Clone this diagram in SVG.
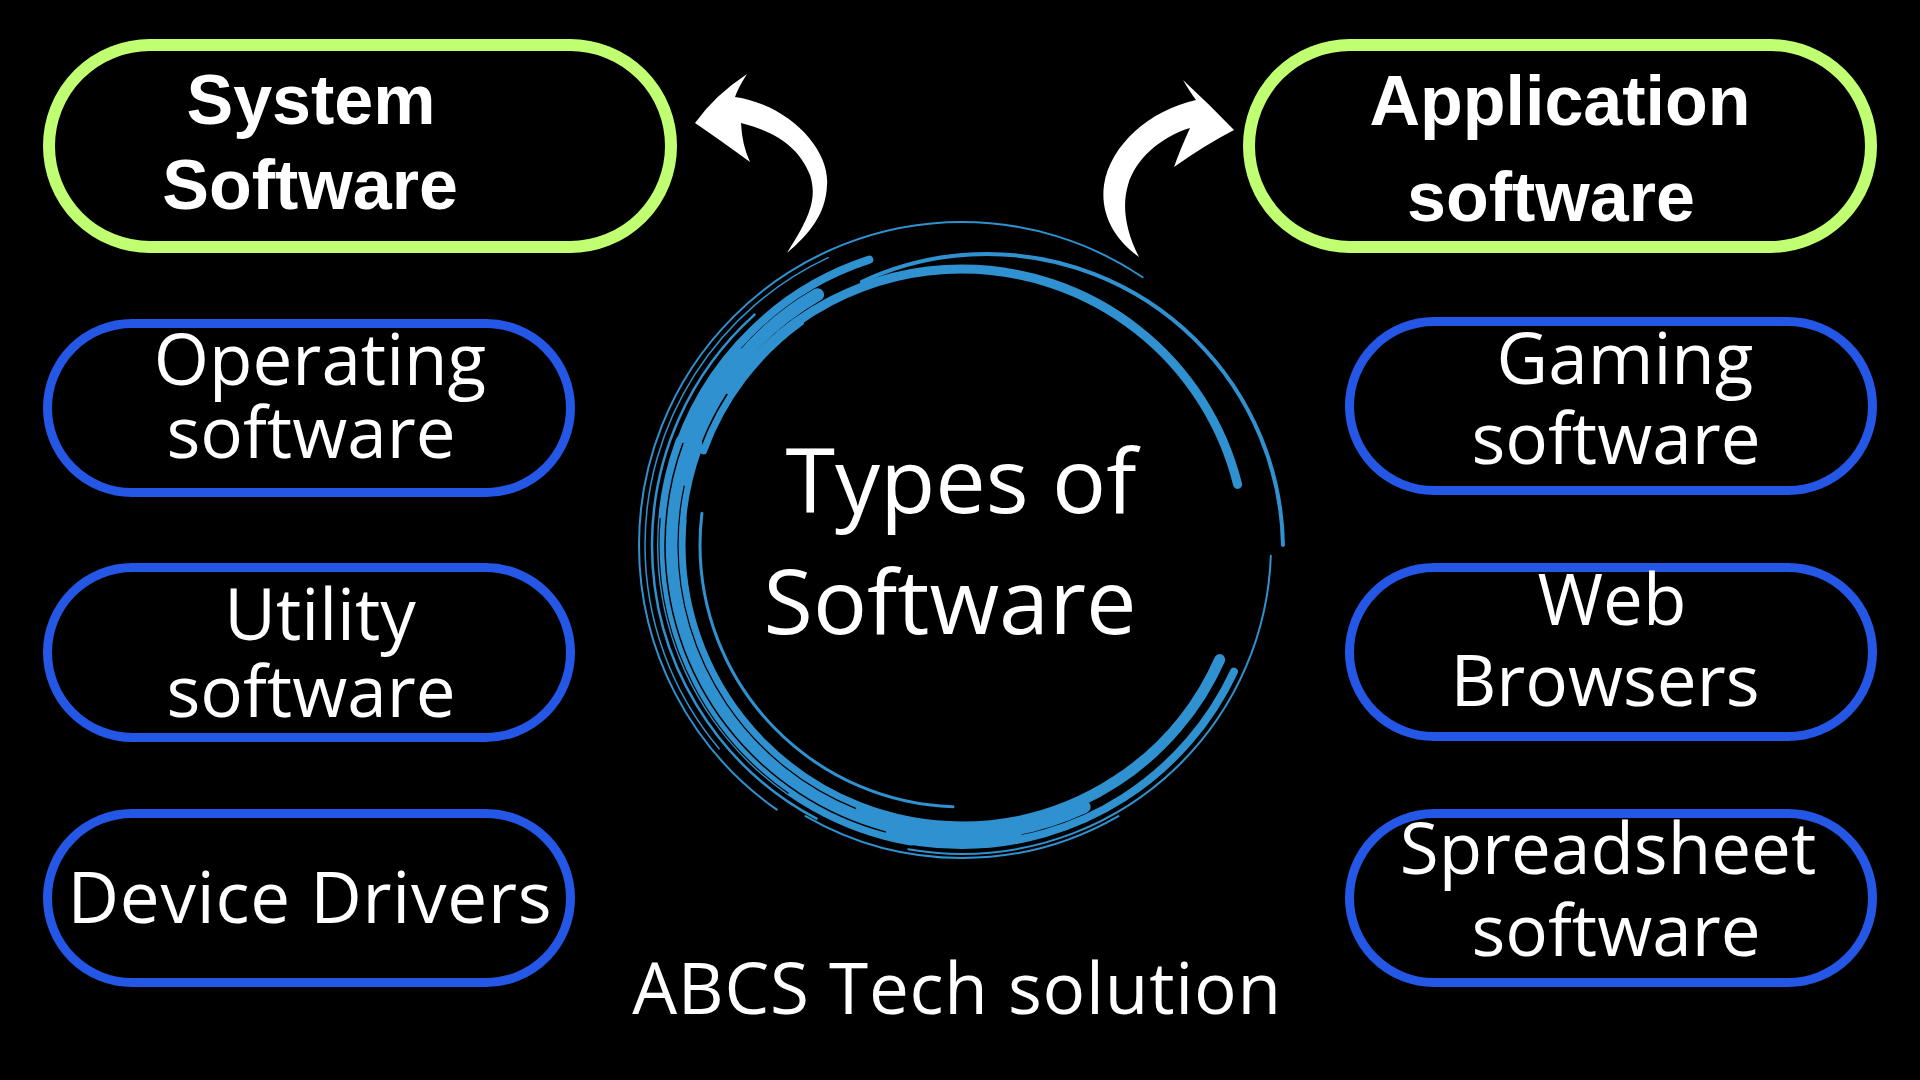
<svg xmlns="http://www.w3.org/2000/svg" width="1920" height="1080" viewBox="0 0 1920 1080">
<style>
.bg{fill:#000}
.gp{fill:#000;stroke:#c1ff72;stroke-width:12}
.bp{fill:#000;stroke:#2457e5;stroke-width:9}
.hd{font-family:"Liberation Sans",Arial,sans-serif;font-weight:bold;font-size:70px;fill:#fff;text-anchor:middle}
.lb{font-family:"Open Sans","Noto Sans",sans-serif;font-size:71px;fill:#fff;text-anchor:middle}
.wide{letter-spacing:0.8px}
.ct{font-family:"Open Sans","Noto Sans",sans-serif;font-size:90px;fill:#fff;text-anchor:middle}
.br{fill:none;stroke:#2f91cf;stroke-linecap:round}
.bk{fill:none;stroke:#000;stroke-linecap:round}
.ar{fill:#fff}
</style>
<rect class="bg" x="0" y="0" width="1920" height="1080"/>

<g id="swirl">
<circle class="br" cx="962" cy="545" r="323" pathLength="360" stroke-width="2" stroke-dasharray="179 181" stroke-dashoffset="-125"/>
<circle class="br" cx="962" cy="545" r="317" pathLength="360" stroke-width="1.5" stroke-dasharray="105 255" stroke-dashoffset="-140"/>
<circle class="br" cx="962" cy="545" r="310" pathLength="360" stroke-width="2.5" stroke-dasharray="110 250" stroke-dashoffset="-118"/>
<circle class="br" cx="987" cy="550" r="296" pathLength="360" stroke-width="4" stroke-dasharray="114 246" stroke-dashoffset="-245"/>
<circle class="br" cx="962" cy="553" r="284" pathLength="360" stroke-width="9" stroke-dasharray="131 229" stroke-dashoffset="-215"/>
<circle class="br" cx="962" cy="545" r="300" pathLength="360" stroke-width="8" stroke-dasharray="60 300" stroke-dashoffset="-192"/>
<circle class="br" cx="962" cy="545" r="275" pathLength="360" stroke-width="7" stroke-dasharray="34 326" stroke-dashoffset="-200"/>
<circle class="br" cx="962" cy="545" r="262" pathLength="360" stroke-width="3" stroke-dasharray="95 265" stroke-dashoffset="-92"/>
<circle class="br" cx="962" cy="545" r="282" pathLength="360" stroke-width="11" stroke-dasharray="161 199" stroke-dashoffset="-24"/>
<circle class="br" cx="962" cy="545" r="300" pathLength="360" stroke-width="8" stroke-dasharray="100 260" stroke-dashoffset="-25"/>
<circle class="br" cx="962" cy="545" r="309" pathLength="360" stroke-width="2" stroke-dasharray="98 262" stroke-dashoffset="-2"/>
<circle class="br" cx="962" cy="545" r="291" pathLength="360" stroke-width="28" stroke-dasharray="100 260" stroke-dashoffset="-100"/>
<circle class="br" cx="962" cy="545" r="290" pathLength="360" stroke-width="20" stroke-dasharray="140 220" stroke-dashoffset="-80"/>
<circle class="br" cx="962" cy="545" r="289" pathLength="360" stroke-width="13" stroke-dasharray="175 185" stroke-dashoffset="-65"/>
<circle class="br" cx="962" cy="545" r="313" pathLength="360" stroke-width="2" stroke-dasharray="60 300" stroke-dashoffset="-60"/>
<circle class="bk" cx="962" cy="545" r="297" pathLength="360" stroke-width="1.5" stroke-dasharray="95 265" stroke-dashoffset="-105"/>
<circle class="bk" cx="962" cy="545" r="284" pathLength="360" stroke-width="1.2" stroke-dasharray="80 280" stroke-dashoffset="-112"/>
<circle class="bk" cx="962" cy="545" r="303" pathLength="360" stroke-width="1.2" stroke-dasharray="60 300" stroke-dashoffset="-125"/>
</g>

<g id="connectors">
<path class="ar" d="M 747 74 Q 738 88 735 97 C 790 105 830 150 827 185 C 826 215 808 235 787 253 C 808 220 818 200 810 175 C 800 150 780 133 741 123 Q 742 145 750 162 Q 720 140 695 123 Q 715 95 747 74 Z"/>
<path class="ar" d="M 1183 80 Q 1190 92 1196 100 C 1150 110 1110 145 1104 185 C 1100 215 1115 240 1139 257 C 1125 230 1122 205 1128 185 C 1135 160 1160 137 1190 128 Q 1180 150 1174 167 Q 1205 145 1234 130 Q 1210 105 1183 80 Z"/>
</g>

<g id="center">
<text class="ct" x="961" y="513">Types of</text>
<text class="ct" x="950" y="634">Software</text>
</g>

<g id="system-software">
<rect class="gp" x="49" y="45" width="622" height="202" rx="101"/>
<text class="hd" x="311" y="124">System</text>
<text class="hd" x="310" y="209">Software</text>
</g>

<g id="application-software">
<rect class="gp" x="1249" y="45" width="622" height="202" rx="101"/>
<text class="hd" x="1560" y="125">Application</text>
<text class="hd" x="1551" y="221">software</text>
</g>

<g id="operating-software">
<rect class="bp" x="47.5" y="323.5" width="523" height="169" rx="84.5"/>
<text class="lb" x="320" y="385">Operating</text>
<text class="lb" x="311" y="458">software</text>
</g>

<g id="utility-software">
<rect class="bp" x="47.5" y="567.5" width="523" height="170" rx="85"/>
<text class="lb" x="320" y="640">Utility</text>
<text class="lb" x="311" y="717">software</text>
</g>

<g id="device-drivers">
<rect class="bp" x="47.5" y="813.5" width="523" height="169" rx="84.5"/>
<text class="lb wide" x="310" y="923">Device Drivers</text>
</g>

<g id="gaming-software">
<rect class="bp" x="1349.5" y="321.5" width="523" height="169" rx="84.5"/>
<text class="lb" x="1625" y="384">Gaming</text>
<text class="lb" x="1616" y="464">software</text>
</g>

<g id="web-browsers">
<rect class="bp" x="1349.5" y="567.5" width="523" height="169" rx="84.5"/>
<text class="lb" x="1612" y="625">Web</text>
<text class="lb" x="1605" y="706">Browsers</text>
</g>

<g id="spreadsheet-software">
<rect class="bp" x="1349.5" y="813.5" width="523" height="169" rx="84.5"/>
<text class="lb" x="1608" y="874">Spreadsheet</text>
<text class="lb" x="1616" y="956">software</text>
</g>

<g id="footer">
<text class="lb wide" x="957" y="1014">ABCS Tech solution</text>
</g>
</svg>
